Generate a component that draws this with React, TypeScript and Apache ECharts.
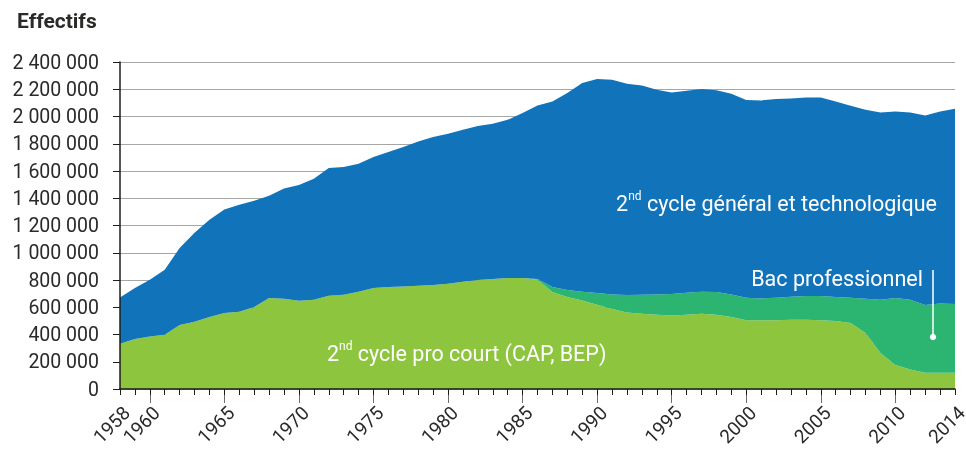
import React, { useEffect, useRef } from "react";
import * as echarts from "echarts";

const years: string[] = [];
for (let y = 1958; y <= 2014; y++) years.push(String(y));

// values in thousands of pupils
const proCourtK = [
  332, 367, 386, 398, 470, 494, 528, 558, 567, 602,
  668, 663, 648, 655, 685, 692, 714, 741, 749, 753,
  758, 763, 773, 787, 800, 807, 815, 815, 802, 712,
  675, 650, 619, 587, 562, 553, 545, 540, 545, 553,
  545, 528, 504, 504, 504, 509, 509, 504, 499, 484,
  411, 264, 176, 144, 120, 120, 120,
];
const bacProK = [
  0, 0, 0, 0, 0, 0, 0, 0, 0, 0,
  0, 0, 0, 0, 0, 0, 0, 0, 0, 0,
  0, 0, 0, 0, 0, 0, 0, 0, 6, 37,
  52, 64, 86, 107, 128, 139, 149, 157, 162, 161,
  167, 166, 166, 161, 166, 168, 173, 178, 176, 186,
  251, 391, 491, 511, 496, 508, 503,
];
const generalK = [
  340, 374, 416, 477, 565, 653, 715, 760, 786, 780,
  751, 809, 849, 888, 937, 937, 939, 962, 990, 1023,
  1059, 1086, 1101, 1116, 1130, 1140, 1161, 1210, 1273, 1362,
  1445, 1532, 1570, 1576, 1551, 1535, 1503, 1480, 1482, 1488,
  1480, 1473, 1451, 1453, 1458, 1456, 1458, 1458, 1436, 1409,
  1388, 1375, 1370, 1375, 1392, 1409, 1434,
];

const labelYears = ["1958", "1960", "1965", "1970", "1975", "1980", "1985", "1990", "1995", "2000", "2005", "2010", "2014"];
const majorTickYears = ["1960", "1965", "1970", "1975", "1980", "1985", "1990", "1995", "2000", "2005", "2010"];

const COLORS = {
  pro: "#8dc53f",
  bac: "#2bb571",
  gen: "#1173ba",
  text: "#2b2a29",
  axis: "#1d1d1b",
  grid: "#a6a6a6",
};

const FONT = "Roboto, 'Noto Sans', sans-serif";

function fmt(v: number): string {
  return String(Math.round(v * 1000)).replace(/\B(?=(\d{3})+(?!\d))/g, " ");
}

export default function App() {
  const ref = useRef<HTMLDivElement>(null);
  useEffect(() => {
    if (!ref.current) return;
    const chart = echarts.init(ref.current, undefined, { renderer: "svg" });
    const areaSeries = (name: string, data: number[], color: string) => ({
      name,
      type: "line",
      stack: "total",
      data,
      symbol: "none",
      lineStyle: { width: 0, color },
      itemStyle: { color },
      areaStyle: { color, opacity: 1 },
      silent: true,
    });
    const richLabel = {
      a: { fontSize: 21.5, fontFamily: FONT, fill: "#ffffff", lineHeight: 24, verticalAlign: "bottom" },
      s: { fontSize: 12, fontFamily: FONT, fill: "#ffffff", lineHeight: 24, verticalAlign: "top" },
    };
    chart.setOption({
      animation: false,
      textStyle: { fontFamily: FONT },
      grid: { left: 120, right: 11, top: 62, bottom: 61, containLabel: false, outerBoundsMode: "none" },
      xAxis: [
        {
          type: "category",
          data: years,
          boundaryGap: false,
          axisLine: { show: true, lineStyle: { color: COLORS.axis, width: 1.5 } },
          axisTick: { show: true, interval: 0, length: 6, lineStyle: { color: COLORS.axis, width: 1 } },
          axisLabel: { show: false },
          splitLine: { show: false },
          z: 10,
        },
        {
          type: "category",
          data: years,
          boundaryGap: false,
          position: "bottom",
          axisLine: { show: false },
          axisTick: {
            show: true,
            length: 14,
            interval: (_i: number, v: string) => majorTickYears.includes(v),
            lineStyle: { color: "#6d6d6d", width: 1 },
          },
          axisLabel: {
            show: true,
            interval: (_i: number, v: string) => labelYears.includes(v),
            rotate: 45,
            margin: 14,
            verticalAlign: "top",
            fontSize: 19,
            color: COLORS.text,
            fontFamily: FONT,
            hideOverlap: false,
            showMinLabel: true,
            showMaxLabel: true,
          },
          splitLine: { show: false },
        },
      ],
      yAxis: [
        {
          type: "value",
          min: 0,
          max: 2400,
          interval: 200,
          axisLine: { show: false },
          axisTick: { show: false },
          axisLabel: { show: false },
          splitLine: { show: true, lineStyle: { color: COLORS.grid, width: 1 } },
        },
        {
          type: "value",
          min: 0,
          max: 2400,
          interval: 200,
          position: "left",
          axisLine: { show: true, lineStyle: { color: COLORS.axis, width: 1.5 } },
          axisTick: { show: true, length: 7, lineStyle: { color: COLORS.axis } },
          axisLabel: {
            formatter: (v: number) => fmt(v),
            fontSize: 19.5,
            margin: 21,
            color: COLORS.text,
            fontFamily: FONT,
          },
          splitLine: { show: false },
          z: 10,
        },
      ],
      series: [
        areaSeries("2nd cycle pro court (CAP, BEP)", proCourtK, COLORS.pro),
        areaSeries("Bac professionnel", bacProK, COLORS.bac),
        areaSeries("2nd cycle général et technologique", generalK, COLORS.gen),
      ],
      graphic: [
        {
          type: "text",
          left: 17,
          top: 10,
          style: { text: "Effectifs", font: `bold 21px ${FONT}`, fill: COLORS.text },
        },
        {
          type: "text",
          x: 937,
          y: 202,
          z: 100,
          style: {
            text: "{a|2}{s|nd}{a| cycle général et technologique}",
            align: "right",
            verticalAlign: "middle",
            rich: richLabel,
          },
        },
        {
          type: "text",
          x: 923,
          y: 278,
          z: 100,
          style: {
            text: "Bac professionnel",
            align: "right",
            verticalAlign: "middle",
            font: `21.5px ${FONT}`,
            fill: "#ffffff",
          },
        },
        {
          type: "line",
          z: 100,
          shape: { x1: 933, y1: 270, x2: 933, y2: 337 },
          style: { stroke: "#ffffff", lineWidth: 1.5 },
        },
        {
          type: "circle",
          z: 100,
          shape: { cx: 933, cy: 337, r: 3.2 },
          style: { fill: "#ffffff" },
        },
        {
          type: "text",
          x: 327,
          y: 352,
          z: 100,
          style: {
            text: "{a|2}{s|nd}{a| cycle pro court (CAP, BEP)}",
            align: "left",
            verticalAlign: "middle",
            rich: richLabel,
          },
        },
      ],
    });
    return () => chart.dispose();
  }, []);
  return (
    <div style={{ position: "fixed", left: 0, top: 0, width: 966, height: 450, overflow: "hidden" }}>
      <div ref={ref} style={{ width: 966, height: 450 }} />
    </div>
  );
}
